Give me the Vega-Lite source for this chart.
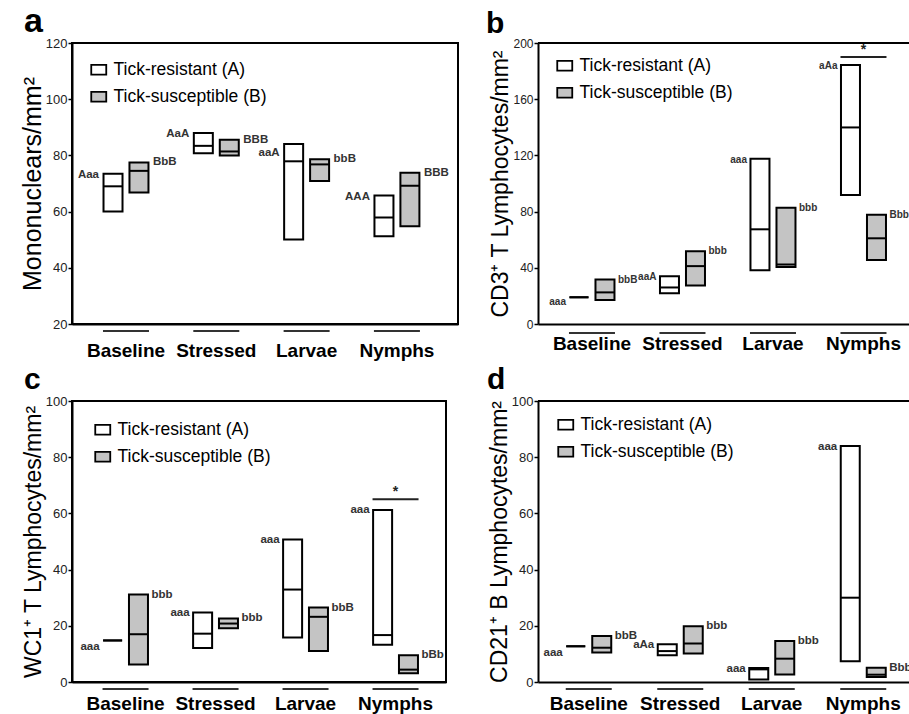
{
  "$schema": "https://vega.github.io/schema/vega-lite/v6.json",
  "background": "white",
  "padding": {"left": 19, "top": 4, "right": 0, "bottom": 0},
  "config": {
    "font": "Liberation Sans",
    "axisY": {"domain": true, "domainColor": "black", "domainWidth": 2, "ticks": true, "tickSize": 4, "tickColor": "black", "tickWidth": 1.5, "labelFontSize": 13, "labelColor": "#222", "labelPadding": 1, "grid": false, "titleFontWeight": "normal", "titleColor": "black", "titleFontSize": 23, "titlePadding": 0},
    "axisX": {"domain": true, "domainColor": "black", "domainWidth": 2, "ticks": false, "labelFontSize": 19, "labelFontWeight": "bold", "labelColor": "black", "labelAngle": 0, "grid": false, "title": null},
    "legend": {"orient": "none", "title": null, "labelFontSize": 17.5, "labelColor": "black", "symbolType": "M-1,-0.65L1,-0.65L1,0.65L-1,0.65Z", "symbolSize": 225, "symbolStrokeColor": "black", "symbolStrokeWidth": 1.8, "rowPadding": 8, "labelOffset": 6, "padding": 0},
    "title": {"anchor": "start", "frame": "group", "fontWeight": "bold", "color": "black", "baseline": "alphabetic"},
    "tick": {"opacity": 1},
    "bar": {"opacity": 1}
  },
  "datasets": {
    "cats": [{"cat": "Baseline"}, {"cat": "Stressed"}, {"cat": "Larvae"}, {"cat": "Nymphs"}],
    "a": [
      {"cat": "Baseline", "grp": "Tick-resistant (A)", "lo": 60, "med": 69, "hi": 73.5, "lab": "Aaa"},
      {"cat": "Baseline", "grp": "Tick-susceptible (B)", "lo": 66.8, "med": 74.5, "hi": 77.5, "lab": "BbB"},
      {"cat": "Stressed", "grp": "Tick-resistant (A)", "lo": 80.8, "med": 83.4, "hi": 88, "lab": "AaA"},
      {"cat": "Stressed", "grp": "Tick-susceptible (B)", "lo": 80, "med": 81.4, "hi": 85.6, "lab": "BBB"},
      {"cat": "Larvae", "grp": "Tick-resistant (A)", "lo": 50.1, "med": 77.9, "hi": 84.1, "lab": "aaA"},
      {"cat": "Larvae", "grp": "Tick-susceptible (B)", "lo": 70.9, "med": 76.8, "hi": 78.6, "lab": "bbB"},
      {"cat": "Nymphs", "grp": "Tick-resistant (A)", "lo": 51.2, "med": 57.9, "hi": 65.7, "lab": "AAA"},
      {"cat": "Nymphs", "grp": "Tick-susceptible (B)", "lo": 54.8, "med": 69.2, "hi": 73.8, "lab": "BBB"}
    ],
    "b": [
      {"cat": "Baseline", "grp": "Tick-resistant (A)", "lo": 19, "med": 19, "hi": 19, "lab": "aaa"},
      {"cat": "Baseline", "grp": "Tick-susceptible (B)", "lo": 17.1, "med": 22.5, "hi": 31.6, "lab": "bbB"},
      {"cat": "Stressed", "grp": "Tick-resistant (A)", "lo": 21.8, "med": 26, "hi": 34, "lab": "aaA"},
      {"cat": "Stressed", "grp": "Tick-susceptible (B)", "lo": 27.4, "med": 41.2, "hi": 51.7, "lab": "bbb"},
      {"cat": "Larvae", "grp": "Tick-resistant (A)", "lo": 38.2, "med": 67.4, "hi": 117.7, "lab": "aaa"},
      {"cat": "Larvae", "grp": "Tick-susceptible (B)", "lo": 40.5, "med": 42.4, "hi": 82.8, "lab": "bbb"},
      {"cat": "Nymphs", "grp": "Tick-resistant (A)", "lo": 91.9, "med": 139.9, "hi": 184.4, "lab": "aAa"},
      {"cat": "Nymphs", "grp": "Tick-susceptible (B)", "lo": 45.6, "med": 61, "hi": 77.7, "lab": "Bbb"}
    ],
    "c": [
      {"cat": "Baseline", "grp": "Tick-resistant (A)", "lo": 14.8, "med": 14.8, "hi": 14.8, "lab": "aaa"},
      {"cat": "Baseline", "grp": "Tick-susceptible (B)", "lo": 6.2, "med": 17, "hi": 31.1, "lab": "bbb"},
      {"cat": "Stressed", "grp": "Tick-resistant (A)", "lo": 12.1, "med": 17.2, "hi": 24.7, "lab": "aaa"},
      {"cat": "Stressed", "grp": "Tick-susceptible (B)", "lo": 19.1, "med": 20.8, "hi": 22.6, "lab": "bbb"},
      {"cat": "Larvae", "grp": "Tick-resistant (A)", "lo": 15.8, "med": 32.9, "hi": 50.7, "lab": "aaa"},
      {"cat": "Larvae", "grp": "Tick-susceptible (B)", "lo": 11, "med": 23.2, "hi": 26.5, "lab": "bbB"},
      {"cat": "Nymphs", "grp": "Tick-resistant (A)", "lo": 13.3, "med": 16.7, "hi": 61.2, "lab": "aaa"},
      {"cat": "Nymphs", "grp": "Tick-susceptible (B)", "lo": 3.1, "med": 4.4, "hi": 9.5, "lab": "bBb"}
    ],
    "d": [
      {"cat": "Baseline", "grp": "Tick-resistant (A)", "lo": 12.7, "med": 12.7, "hi": 12.7, "lab": "aaa"},
      {"cat": "Baseline", "grp": "Tick-susceptible (B)", "lo": 10.5, "med": 12.2, "hi": 16.4, "lab": "bbB"},
      {"cat": "Stressed", "grp": "Tick-resistant (A)", "lo": 9.5, "med": 11, "hi": 13.4, "lab": "aAa"},
      {"cat": "Stressed", "grp": "Tick-susceptible (B)", "lo": 10.1, "med": 13.7, "hi": 19.8, "lab": "bbb"},
      {"cat": "Larvae", "grp": "Tick-resistant (A)", "lo": 0.9, "med": 4.5, "hi": 5, "lab": "aaa"},
      {"cat": "Larvae", "grp": "Tick-susceptible (B)", "lo": 2.7, "med": 8.3, "hi": 14.6, "lab": "bbb"},
      {"cat": "Nymphs", "grp": "Tick-resistant (A)", "lo": 7.4, "med": 30, "hi": 84, "lab": "aaa"},
      {"cat": "Nymphs", "grp": "Tick-susceptible (B)", "lo": 1.8, "med": 2.6, "hi": 5.1, "lab": "Bbb"}
    ],
    "sig_b": [{"cat": "Nymphs", "p": 190, "star": "*"}],
    "sig_c": [{"cat": "Nymphs", "p": 65, "star": "*"}]
  },
  "columns": 2,
  "spacing": {"row": 77, "column": 80},
  "bounds": "flush",
  "resolve": {"scale": {"x": "independent", "y": "independent", "fill": "independent", "xOffset": "independent"}, "legend": {"fill": "independent"}, "axis": {"x": "independent", "y": "independent"}},
  "concat": [
    {
      "width": 386, "height": 281,
      "view": {"stroke": "black", "strokeWidth": 2},
      "title": {"text": "a", "fontSize": 34, "dx": -48, "offset": -2},
      "data": {"name": "a"},
      "layer": [
        {"mark": {"type": "bar", "width": 19, "stroke": "black", "strokeWidth": 2},
         "encoding": {
           "x": {"field": "cat", "type": "nominal", "sort": ["Baseline", "Stressed", "Larvae", "Nymphs"], "scale": {"paddingInner": 0, "paddingOuter": 0.137, "align": 0.357}, "axis": {"labelPadding": 17}},
           "xOffset": {"field": "grp", "type": "nominal", "scale": {"paddingInner": 0, "paddingOuter": 0.74}},
           "y": {"field": "lo", "type": "quantitative", "scale": {"domain": [20, 120], "nice": false, "zero": false}, "axis": {"values": [20, 40, 60, 80, 100, 120], "title": "Mononuclears/mm²", "titleFontSize": 25}},
           "y2": {"field": "hi"},
           "fill": {"field": "grp", "type": "nominal", "scale": {"range": ["white", "#c4c4c4"]}, "legend": {"legendX": 18, "legendY": 18}}
         }},
        {"mark": {"type": "tick", "orient": "horizontal", "size": 19, "thickness": 2, "color": "black"},
         "encoding": {"x": {"field": "cat", "type": "nominal", "sort": ["Baseline", "Stressed", "Larvae", "Nymphs"]}, "xOffset": {"field": "grp", "type": "nominal"}, "y": {"field": "med", "type": "quantitative"}}},
        {"transform": [{"filter": "datum.grp == 'Tick-resistant (A)' && datum.cat != 'Larvae'"}],
         "mark": {"type": "text", "align": "right", "baseline": "middle", "dx": -14, "dy": 1, "fontSize": 11.5, "fontWeight": "bold", "color": "#333"},
         "encoding": {"x": {"field": "cat", "type": "nominal", "sort": ["Baseline", "Stressed", "Larvae", "Nymphs"]}, "xOffset": {"field": "grp", "type": "nominal"}, "y": {"field": "hi", "type": "quantitative"}, "text": {"field": "lab"}}},
        {"transform": [{"filter": "datum.grp == 'Tick-resistant (A)' && datum.cat == 'Larvae'"}],
         "mark": {"type": "text", "align": "right", "baseline": "middle", "dx": -14, "dy": 9, "fontSize": 11.5, "fontWeight": "bold", "color": "#333"},
         "encoding": {"x": {"field": "cat", "type": "nominal", "sort": ["Baseline", "Stressed", "Larvae", "Nymphs"]}, "xOffset": {"field": "grp", "type": "nominal"}, "y": {"field": "hi", "type": "quantitative"}, "text": {"field": "lab"}}},
        {"transform": [{"filter": "datum.grp == 'Tick-susceptible (B)'"}],
         "mark": {"type": "text", "align": "left", "baseline": "middle", "dx": 14, "dy": 0, "fontSize": 11.5, "fontWeight": "bold", "color": "#333"},
         "encoding": {"x": {"field": "cat", "type": "nominal", "sort": ["Baseline", "Stressed", "Larvae", "Nymphs"]}, "xOffset": {"field": "grp", "type": "nominal"}, "y": {"field": "hi", "type": "quantitative"}, "text": {"field": "lab"}}},
        {"data": {"name": "cats"},
         "mark": {"type": "tick", "orient": "horizontal", "size": 46, "thickness": 2, "color": "#333"},
         "encoding": {"x": {"field": "cat", "type": "nominal", "sort": ["Baseline", "Stressed", "Larvae", "Nymphs"]}, "y": {"datum": 17.5}}}
      ]
    },
    {
      "width": 371, "height": 281,
      "view": {"stroke": null},
      "title": {"text": "b", "fontSize": 30, "dx": -52, "offset": -2},
      "data": {"name": "b"},
      "layer": [
        {"mark": {"type": "bar", "width": 19, "stroke": "black", "strokeWidth": 2},
         "encoding": {
           "x": {"field": "cat", "type": "nominal", "sort": ["Baseline", "Stressed", "Larvae", "Nymphs"], "scale": {"paddingInner": 0, "paddingOuter": 0.0497, "align": 0.97}, "axis": {"labelPadding": 10}},
           "xOffset": {"field": "grp", "type": "nominal", "scale": {"paddingInner": 0, "paddingOuter": 0.74}},
           "y": {"field": "lo", "type": "quantitative", "scale": {"domain": [0, 200], "nice": false, "zero": false}, "axis": {"values": [0, 40, 80, 120, 160, 200], "title": "CD3⁺ T Lymphocytes/mm²", "labelFontSize": 12}},
           "y2": {"field": "hi"},
           "fill": {"field": "grp", "type": "nominal", "scale": {"range": ["white", "#c4c4c4"]}, "legend": {"legendX": 18, "legendY": 14}}
         }},
        {"mark": {"type": "tick", "orient": "horizontal", "size": 19, "thickness": 2, "color": "black"},
         "encoding": {"x": {"field": "cat", "type": "nominal", "sort": ["Baseline", "Stressed", "Larvae", "Nymphs"]}, "xOffset": {"field": "grp", "type": "nominal"}, "y": {"field": "med", "type": "quantitative"}}},
        {"transform": [{"filter": "datum.grp == 'Tick-resistant (A)' && datum.cat != 'Baseline'"}],
         "mark": {"type": "text", "align": "right", "baseline": "middle", "dx": -13, "dy": 1, "fontSize": 10, "fontWeight": "bold", "color": "#333"},
         "encoding": {"x": {"field": "cat", "type": "nominal", "sort": ["Baseline", "Stressed", "Larvae", "Nymphs"]}, "xOffset": {"field": "grp", "type": "nominal"}, "y": {"field": "hi", "type": "quantitative"}, "text": {"field": "lab"}}},
        {"transform": [{"filter": "datum.grp == 'Tick-resistant (A)' && datum.cat == 'Baseline'"}],
         "mark": {"type": "text", "align": "right", "baseline": "middle", "dx": -13, "dy": 5, "fontSize": 10, "fontWeight": "bold", "color": "#333"},
         "encoding": {"x": {"field": "cat", "type": "nominal", "sort": ["Baseline", "Stressed", "Larvae", "Nymphs"]}, "xOffset": {"field": "grp", "type": "nominal"}, "y": {"field": "hi", "type": "quantitative"}, "text": {"field": "lab"}}},
        {"transform": [{"filter": "datum.grp == 'Tick-susceptible (B)'"}],
         "mark": {"type": "text", "align": "left", "baseline": "middle", "dx": 13, "dy": 0, "fontSize": 10, "fontWeight": "bold", "color": "#333"},
         "encoding": {"x": {"field": "cat", "type": "nominal", "sort": ["Baseline", "Stressed", "Larvae", "Nymphs"]}, "xOffset": {"field": "grp", "type": "nominal"}, "y": {"field": "hi", "type": "quantitative"}, "text": {"field": "lab"}}},
        {"data": {"name": "cats"},
         "mark": {"type": "tick", "orient": "horizontal", "size": 46, "thickness": 2, "color": "#333"},
         "encoding": {"x": {"field": "cat", "type": "nominal", "sort": ["Baseline", "Stressed", "Larvae", "Nymphs"]}, "y": {"datum": -6.4}}},
        {"data": {"name": "sig_b"},
         "mark": {"type": "tick", "orient": "horizontal", "size": 46, "thickness": 2, "color": "#222"},
         "encoding": {"x": {"field": "cat", "type": "nominal", "sort": ["Baseline", "Stressed", "Larvae", "Nymphs"]}, "y": {"field": "p", "type": "quantitative"}}},
        {"data": {"name": "sig_b"},
         "mark": {"type": "text", "baseline": "middle", "dy": -7, "fontSize": 14, "fontWeight": "bold", "color": "#222"},
         "encoding": {"x": {"field": "cat", "type": "nominal", "sort": ["Baseline", "Stressed", "Larvae", "Nymphs"]}, "y": {"field": "p", "type": "quantitative"}, "text": {"field": "star"}}},
        {"data": {"name": "sig_b"},
         "mark": {"type": "rule", "color": "black", "strokeWidth": 2},
         "encoding": {"y": {"datum": 200}}}
      ]
    },
    {
      "width": 374, "height": 281,
      "view": {"stroke": "black", "strokeWidth": 2},
      "title": {"text": "c", "fontSize": 30, "dx": -48, "offset": 0},
      "data": {"name": "c"},
      "layer": [
        {"mark": {"type": "bar", "width": 19, "stroke": "black", "strokeWidth": 2},
         "encoding": {
           "x": {"field": "cat", "type": "nominal", "sort": ["Baseline", "Stressed", "Larvae", "Nymphs"], "scale": {"paddingInner": 0, "paddingOuter": 0.0778, "align": 0.61}, "axis": {"labelPadding": 12}},
           "xOffset": {"field": "grp", "type": "nominal", "scale": {"paddingInner": 0, "paddingOuter": 0.74}},
           "y": {"field": "lo", "type": "quantitative", "scale": {"domain": [0, 100], "nice": false, "zero": false}, "axis": {"values": [0, 20, 40, 60, 80, 100], "title": "WC1⁺ T Lymphocytes/mm²"}},
           "y2": {"field": "hi"},
           "fill": {"field": "grp", "type": "nominal", "scale": {"range": ["white", "#c4c4c4"]}, "legend": {"legendX": 22, "legendY": 20}}
         }},
        {"mark": {"type": "tick", "orient": "horizontal", "size": 19, "thickness": 2, "color": "black"},
         "encoding": {"x": {"field": "cat", "type": "nominal", "sort": ["Baseline", "Stressed", "Larvae", "Nymphs"]}, "xOffset": {"field": "grp", "type": "nominal"}, "y": {"field": "med", "type": "quantitative"}}},
        {"transform": [{"filter": "datum.grp == 'Tick-resistant (A)' && datum.cat != 'Baseline'"}],
         "mark": {"type": "text", "align": "right", "baseline": "middle", "dx": -13, "dy": 0, "fontSize": 11.5, "fontWeight": "bold", "color": "#333"},
         "encoding": {"x": {"field": "cat", "type": "nominal", "sort": ["Baseline", "Stressed", "Larvae", "Nymphs"]}, "xOffset": {"field": "grp", "type": "nominal"}, "y": {"field": "hi", "type": "quantitative"}, "text": {"field": "lab"}}},
        {"transform": [{"filter": "datum.grp == 'Tick-resistant (A)' && datum.cat == 'Baseline'"}],
         "mark": {"type": "text", "align": "right", "baseline": "middle", "dx": -13, "dy": 7, "fontSize": 11.5, "fontWeight": "bold", "color": "#333"},
         "encoding": {"x": {"field": "cat", "type": "nominal", "sort": ["Baseline", "Stressed", "Larvae", "Nymphs"]}, "xOffset": {"field": "grp", "type": "nominal"}, "y": {"field": "hi", "type": "quantitative"}, "text": {"field": "lab"}}},
        {"transform": [{"filter": "datum.grp == 'Tick-susceptible (B)'"}],
         "mark": {"type": "text", "align": "left", "baseline": "middle", "dx": 13, "dy": 0, "fontSize": 11.5, "fontWeight": "bold", "color": "#333"},
         "encoding": {"x": {"field": "cat", "type": "nominal", "sort": ["Baseline", "Stressed", "Larvae", "Nymphs"]}, "xOffset": {"field": "grp", "type": "nominal"}, "y": {"field": "hi", "type": "quantitative"}, "text": {"field": "lab"}}},
        {"data": {"name": "cats"},
         "mark": {"type": "tick", "orient": "horizontal", "size": 46, "thickness": 2, "color": "#333"},
         "encoding": {"x": {"field": "cat", "type": "nominal", "sort": ["Baseline", "Stressed", "Larvae", "Nymphs"]}, "y": {"datum": -2.5}}},
        {"data": {"name": "sig_c"},
         "mark": {"type": "tick", "orient": "horizontal", "size": 46, "thickness": 2, "color": "#222"},
         "encoding": {"x": {"field": "cat", "type": "nominal", "sort": ["Baseline", "Stressed", "Larvae", "Nymphs"]}, "y": {"field": "p", "type": "quantitative"}}},
        {"data": {"name": "sig_c"},
         "mark": {"type": "text", "baseline": "middle", "dy": -7, "fontSize": 14, "fontWeight": "bold", "color": "#222"},
         "encoding": {"x": {"field": "cat", "type": "nominal", "sort": ["Baseline", "Stressed", "Larvae", "Nymphs"]}, "y": {"field": "p", "type": "quantitative"}, "text": {"field": "star"}}}
      ]
    },
    {
      "width": 371, "height": 281,
      "view": {"stroke": null},
      "title": {"text": "d", "fontSize": 30, "dx": -51, "offset": 0},
      "data": {"name": "d"},
      "layer": [
        {"mark": {"type": "bar", "width": 19, "stroke": "black", "strokeWidth": 2},
         "encoding": {
           "x": {"field": "cat", "type": "nominal", "sort": ["Baseline", "Stressed", "Larvae", "Nymphs"], "scale": {"paddingInner": 0, "paddingOuter": 0.0273, "align": 1}, "axis": {"labelPadding": 12}},
           "xOffset": {"field": "grp", "type": "nominal", "scale": {"paddingInner": 0, "paddingOuter": 0.76}},
           "y": {"field": "lo", "type": "quantitative", "scale": {"domain": [0, 100], "nice": false, "zero": false}, "axis": {"values": [0, 20, 40, 60, 80, 100], "title": "CD21⁺ B Lymphocytes/mm²"}},
           "y2": {"field": "hi"},
           "fill": {"field": "grp", "type": "nominal", "scale": {"range": ["white", "#c4c4c4"]}, "legend": {"legendX": 19, "legendY": 15}}
         }},
        {"mark": {"type": "tick", "orient": "horizontal", "size": 19, "thickness": 2, "color": "black"},
         "encoding": {"x": {"field": "cat", "type": "nominal", "sort": ["Baseline", "Stressed", "Larvae", "Nymphs"]}, "xOffset": {"field": "grp", "type": "nominal"}, "y": {"field": "med", "type": "quantitative"}}},
        {"transform": [{"filter": "datum.grp == 'Tick-resistant (A)' && datum.cat != 'Baseline'"}],
         "mark": {"type": "text", "align": "right", "baseline": "middle", "dx": -13, "dy": 1, "fontSize": 11.5, "fontWeight": "bold", "color": "#333"},
         "encoding": {"x": {"field": "cat", "type": "nominal", "sort": ["Baseline", "Stressed", "Larvae", "Nymphs"]}, "xOffset": {"field": "grp", "type": "nominal"}, "y": {"field": "hi", "type": "quantitative"}, "text": {"field": "lab"}}},
        {"transform": [{"filter": "datum.grp == 'Tick-resistant (A)' && datum.cat == 'Baseline'"}],
         "mark": {"type": "text", "align": "right", "baseline": "middle", "dx": -13, "dy": 7, "fontSize": 11.5, "fontWeight": "bold", "color": "#333"},
         "encoding": {"x": {"field": "cat", "type": "nominal", "sort": ["Baseline", "Stressed", "Larvae", "Nymphs"]}, "xOffset": {"field": "grp", "type": "nominal"}, "y": {"field": "hi", "type": "quantitative"}, "text": {"field": "lab"}}},
        {"transform": [{"filter": "datum.grp == 'Tick-susceptible (B)'"}],
         "mark": {"type": "text", "align": "left", "baseline": "middle", "dx": 13, "dy": 0, "fontSize": 11.5, "fontWeight": "bold", "color": "#333"},
         "encoding": {"x": {"field": "cat", "type": "nominal", "sort": ["Baseline", "Stressed", "Larvae", "Nymphs"]}, "xOffset": {"field": "grp", "type": "nominal"}, "y": {"field": "hi", "type": "quantitative"}, "text": {"field": "lab"}}},
        {"data": {"name": "cats"},
         "mark": {"type": "tick", "orient": "horizontal", "size": 46, "thickness": 2, "color": "#333"},
         "encoding": {"x": {"field": "cat", "type": "nominal", "sort": ["Baseline", "Stressed", "Larvae", "Nymphs"]}, "y": {"datum": -2.5}}},
        {"data": {"name": "sig_b"},
         "mark": {"type": "rule", "color": "black", "strokeWidth": 2},
         "encoding": {"y": {"datum": 100}}}
      ]
    }
  ]
}
